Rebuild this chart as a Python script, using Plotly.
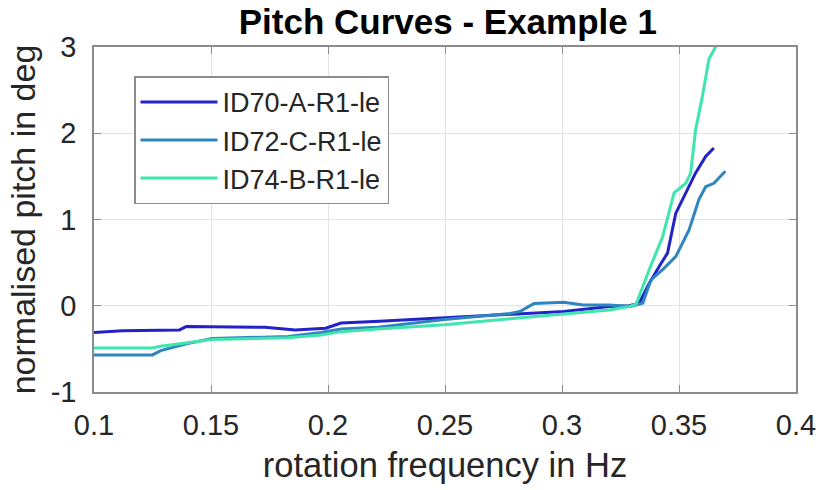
import plotly.graph_objects as go

# Pitch curves: rotation frequency (Hz) vs normalised pitch (deg)
series_names = ["ID70-A-R1-le", "ID72-C-R1-le", "ID74-B-R1-le"]
series_colors = ["#2222c8", "#2e85bf", "#3ee6ae"]

id70_freq = [0.1, 0.112, 0.1365, 0.1395, 0.173, 0.186, 0.199, 0.2056, 0.222, 0.2498,
             0.2778, 0.3007, 0.3202, 0.3287, 0.333, 0.3373, 0.3423, 0.3451, 0.3486,
             0.3529, 0.3571, 0.3614, 0.3649]
id70_pitch = [-0.31, -0.29, -0.28, -0.24, -0.25, -0.28, -0.26, -0.2, -0.18, -0.14,
              -0.10, -0.066, -0.01, 0.0, 0.03, 0.26, 0.49, 0.61, 1.07,
              1.31, 1.54, 1.73, 1.83]

id72_freq = [0.1, 0.125, 0.1285, 0.1395, 0.1505, 0.169, 0.183, 0.197, 0.2056, 0.2213,
             0.2498, 0.2778, 0.282, 0.288, 0.3007, 0.309, 0.3202, 0.3287, 0.3345,
             0.338, 0.343, 0.3486, 0.3543, 0.3585, 0.3614, 0.3649, 0.3698]
id72_pitch = [-0.57, -0.57, -0.52, -0.44, -0.38, -0.37, -0.356, -0.31, -0.27, -0.25,
              -0.16, -0.09, -0.067, 0.025, 0.04, 0.01, 0.01, -0.01, 0.03,
              0.30, 0.42, 0.57, 0.88, 1.23, 1.38, 1.42, 1.56]

id74_freq = [0.1, 0.125, 0.1285, 0.1395, 0.1505, 0.169, 0.183, 0.197, 0.2056, 0.2213,
             0.2498, 0.2778, 0.3007, 0.3202, 0.3287, 0.3317, 0.3373, 0.343, 0.3479,
             0.3529, 0.355, 0.3571, 0.36, 0.3628, 0.3656, 0.367]
id74_pitch = [-0.49, -0.49, -0.47, -0.43, -0.39, -0.38, -0.37, -0.34, -0.30, -0.27,
              -0.22, -0.15, -0.10, -0.05, -0.01, 0.02, 0.42, 0.80, 1.31,
              1.42, 1.54, 2.04, 2.43, 2.86, 3.0, 3.15]

x_ticks = [0.1, 0.15, 0.2, 0.25, 0.3, 0.35, 0.4]
x_tick_labels = ["0.1", "0.15", "0.2", "0.25", "0.3", "0.35", "0.4"]
y_ticks = [-1, 0, 1, 2, 3]
y_tick_labels = ["-1", "0", "1", "2", "3"]

FONT = "Liberation Sans, Arial, Helvetica, sans-serif"
TEXT = "#262626"
AXIS = "#8c8c8c"

fig = go.Figure()
for name, color, xs, ys in zip(
    series_names, series_colors,
    [id70_freq, id72_freq, id74_freq],
    [id70_pitch, id72_pitch, id74_pitch],
):
    fig.add_trace(go.Scatter(x=xs, y=ys, mode="lines", name=name,
                             line=dict(color=color, width=3)))

axis_common = dict(
    showline=True, linecolor=AXIS, linewidth=1.5, mirror="ticks",
    ticks="inside", ticklen=7, tickcolor=AXIS, tickwidth=1,
    showgrid=True, gridcolor="#e3e3e3", gridwidth=1,
    zeroline=False, tickfont=dict(family=FONT, size=29, color=TEXT),
)

fig.update_xaxes(range=[0.1, 0.4], tickvals=x_ticks, ticktext=x_tick_labels,
                 title=dict(text="rotation frequency in Hz", standoff=13,
                            font=dict(family=FONT, size=34.5, color=TEXT)),
                 ticklabelstandoff=6, **axis_common)
fig.update_yaxes(range=[-1, 3], tickvals=y_ticks, ticktext=y_tick_labels,
                 title=dict(text="normalised pitch in deg", standoff=5,
                            font=dict(family=FONT, size=34, color=TEXT)),
                 ticklabelstandoff=10, **axis_common)

fig.update_layout(
    width=828, height=490,
    margin=dict(l=94, r=27, t=47, b=98),
    paper_bgcolor="white", plot_bgcolor="white",
    title=dict(text="<b>Pitch Curves - Example 1</b>", x=0.5409, xanchor="center",
               y=0.955, yanchor="middle",
               font=dict(family=FONT, size=35, color="#000000")),
    legend=dict(x=0.057, y=0.915, xanchor="left", yanchor="top",
                bgcolor="white", bordercolor="#8c8c8c", borderwidth=1.5,
                font=dict(family=FONT, size=27, color=TEXT),
                itemwidth=77, tracegroupgap=0),
    showlegend=True,
)

fig.write_html("out.html")
